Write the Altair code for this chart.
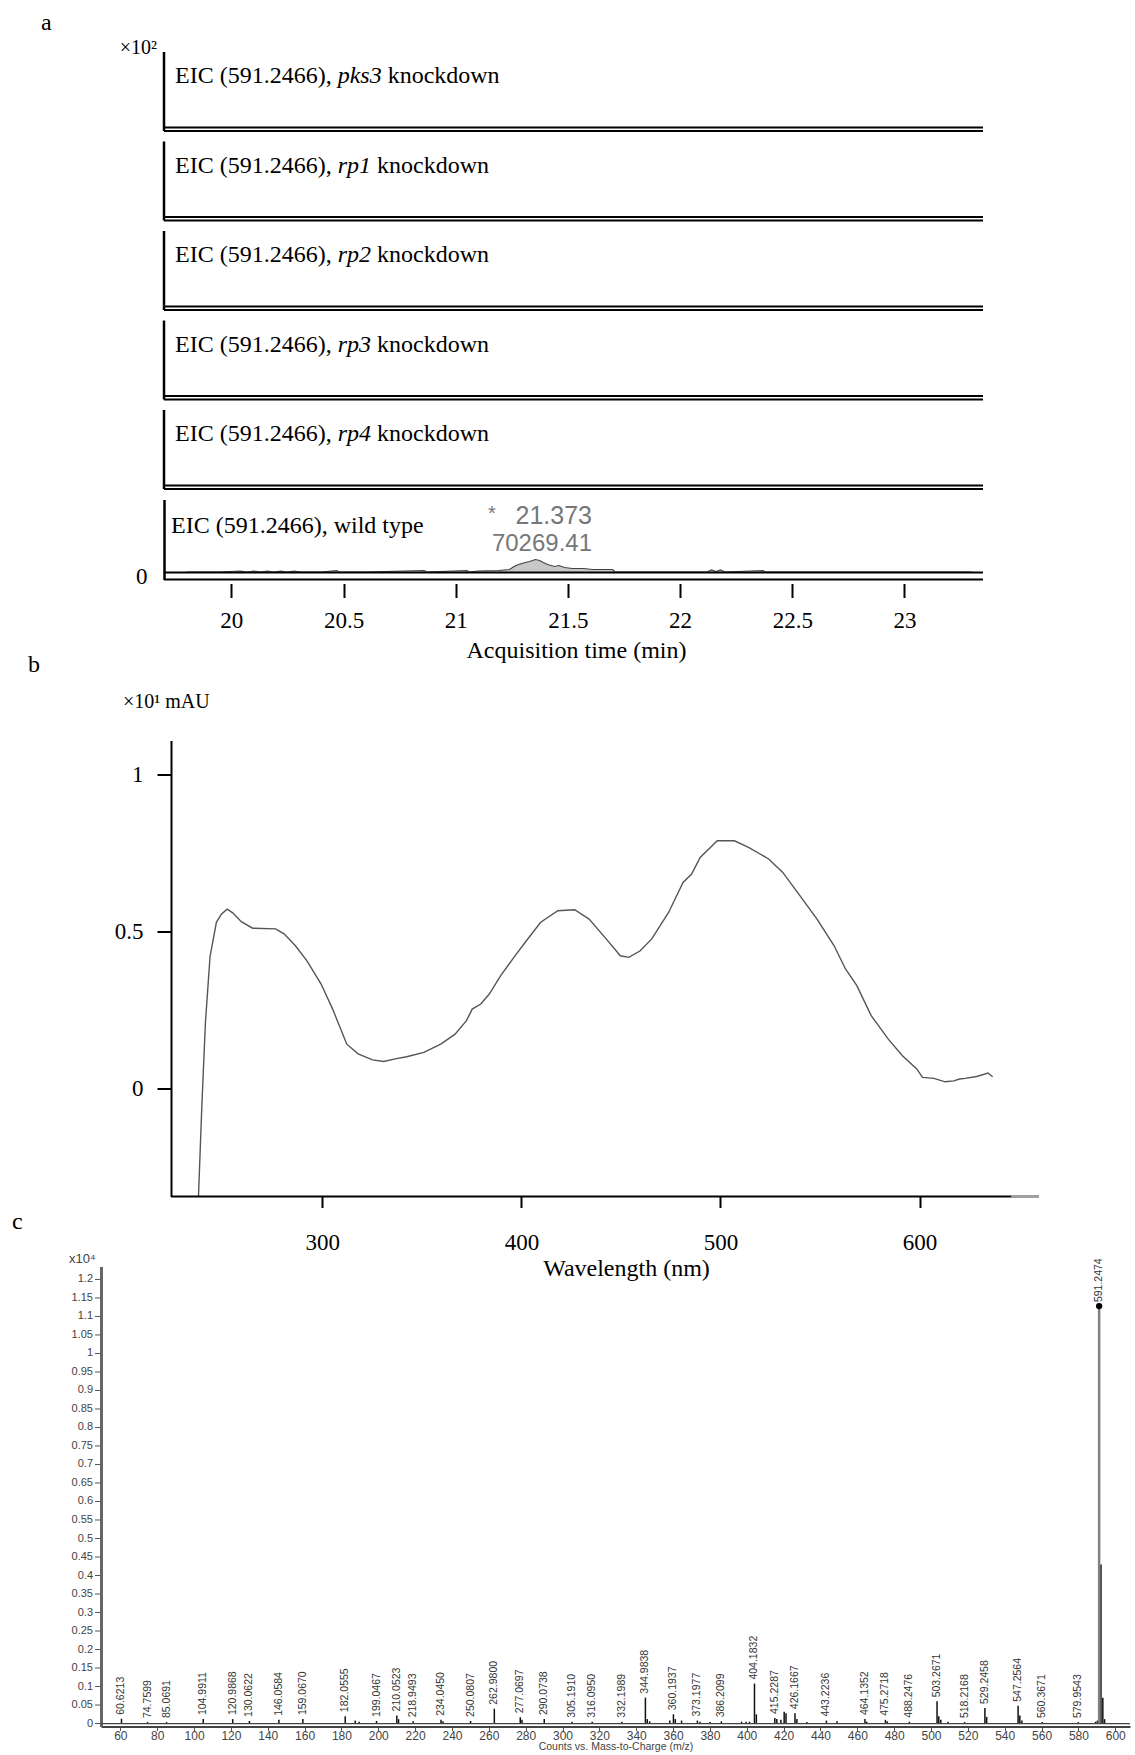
import altair as alt
import pandas as pd

# ---------------- panel a : EIC traces ----------------
knock_genes = ["pks3", "rp1", "rp2", "rp3", "rp4"]
wt_time = [19.80, 19.95, 20.04, 20.07, 20.10, 20.13, 20.16, 20.19, 20.22, 20.25,
           20.28, 20.31, 20.40, 20.47, 20.48, 20.60, 20.86, 20.87, 21.05, 21.06,
           21.10, 21.19, 21.24, 21.26, 21.28, 21.31, 21.33, 21.355, 21.374, 21.39,
           21.41, 21.44, 21.46, 21.485, 21.52, 21.57, 21.61, 21.70, 21.71, 21.90,
           22.12, 22.14, 22.16, 22.18, 22.20, 22.37, 22.38, 22.60, 23.00, 23.30]
wt_int = [0.5, 0.5, 1.5, 0.5, 1.5, 0.5, 1.5, 0.5, 1.5, 0.5,
          1.5, 0.5, 0.5, 2, 0.5, 0.5, 2, 0.5, 2, 0.5,
          1.5, 2, 3, 6, 8, 10, 11, 13, 12, 10,
          8, 6, 7, 5, 4, 4, 3, 3, 0.5, 0.5,
          0.5, 2.5, 1, 2.5, 0.5, 2, 0.5, 0.5, 0.5, 0.5]
a_ticks = [20, 20.5, 21, 21.5, 22, 22.5, 23]
wt_peak_rt = "21.373"
wt_peak_area = "70269.41"

# ---------------- panel b : UV spectrum ----------------
uv_wl = [237.0, 237.8, 239.5, 241.3, 243.6, 246.8, 249.3, 252.2, 255.0, 259.3,
         265.0, 276.5, 280.8, 286.5, 292.3, 299.4, 305.2, 312.3, 318.0, 325.2,
         330.9, 336.6, 342.4, 351.0, 359.5, 366.7, 372.4, 375.3, 379.6, 383.9,
         389.6, 396.8, 402.5, 409.7, 418.3, 426.8, 434.0, 442.6, 449.7, 454.0,
         459.7, 465.5, 474.0, 481.2, 485.5, 489.8, 498.4, 507.0, 514.1, 524.2,
         531.3, 539.9, 548.5, 557.1, 562.8, 568.5, 575.7, 584.3, 591.4, 598.6,
         601.5, 607.2, 612.9, 617.2, 620.1, 622.9, 628.7, 634.4, 636.7]
uv_abs = [-0.40, -0.345, -0.055, 0.21, 0.42, 0.53, 0.556, 0.572, 0.56, 0.532,
          0.511, 0.509, 0.493, 0.455, 0.407, 0.333, 0.253, 0.141, 0.11, 0.091,
          0.086, 0.094, 0.101, 0.115, 0.141, 0.173, 0.216, 0.253, 0.269, 0.301,
          0.36, 0.423, 0.471, 0.53, 0.567, 0.57, 0.54, 0.477, 0.423, 0.418,
          0.439, 0.477, 0.562, 0.657, 0.684, 0.737, 0.79, 0.79, 0.769, 0.732,
          0.689, 0.615, 0.54, 0.455, 0.381, 0.328, 0.232, 0.157, 0.104, 0.062,
          0.035, 0.032, 0.021, 0.024, 0.03, 0.032, 0.038, 0.049, 0.037]
b_xticks = [300, 400, 500, 600]
b_yticks = [0, 0.5, 1]

# ---------------- panel c : mass spectrum ----------------
ms_mz = [60.6213, 74.7599, 85.0691, 104.9911, 120.9868, 130.0622, 146.0584, 159.0670,
         182.0555, 199.0467, 210.0523, 218.9493, 234.0450, 250.0807, 262.9800, 277.0697,
         290.0738, 305.1910, 316.0950, 332.1989, 344.9838, 360.1937, 373.1977, 386.2099,
         404.1832, 415.2287, 426.1667, 443.2236, 464.1352, 475.2718, 488.2476, 503.2671,
         518.2168, 529.2458, 547.2564, 560.3671, 579.9543]
ms_int = [0.013, 0.004, 0.004, 0.012, 0.012, 0.007, 0.010, 0.012,
          0.020, 0.007, 0.022, 0.006, 0.010, 0.007, 0.040, 0.017,
          0.012, 0.005, 0.005, 0.005, 0.070, 0.025, 0.008, 0.006,
          0.108, 0.015, 0.028, 0.008, 0.012, 0.010, 0.005, 0.060,
          0.004, 0.042, 0.048, 0.004, 0.004]
ms_base_mz = [591.2474]
ms_base_int = [1.128]
ms_minor_mz = [187.5, 189.6, 211.0, 235.1, 278.0, 346.0, 347.3, 358.2, 361.2, 364.6,
               374.6, 380.1, 397.2, 399.6, 401.5, 405.2, 416.3, 418.5, 420.3, 421.3,
               427.2, 432.6, 449.0, 465.1, 476.3, 504.2, 505.3, 509.2, 530.2, 548.2,
               549.3, 589.3, 590.3, 592.25, 593.25, 594.2]
ms_minor_int = [0.008, 0.005, 0.012, 0.006, 0.010, 0.012, 0.006, 0.008, 0.012, 0.008,
                0.005, 0.004, 0.005, 0.005, 0.005, 0.025, 0.012, 0.010, 0.032, 0.028,
                0.012, 0.004, 0.006, 0.005, 0.006, 0.020, 0.010, 0.005, 0.018, 0.022,
                0.008, 0.005, 0.008, 0.430, 0.070, 0.012]
c_xticks = [60, 80, 100, 120, 140, 160, 180, 200, 220, 240, 260, 280, 300, 320,
            340, 360, 380, 400, 420, 440, 460, 480, 500, 520, 540, 560, 580, 600]
c_yticks = [0, 0.05, 0.1, 0.15, 0.2, 0.25, 0.3, 0.35, 0.4, 0.45, 0.5, 0.55, 0.6,
            0.65, 0.7, 0.75, 0.8, 0.85, 0.9, 0.95, 1.0, 1.05, 1.1, 1.15, 1.2]

# ---------------- styling ----------------
SERIF = "Liberation Serif"
SANS = "Liberation Sans"
FS = 23
FS_LAB = 24
one = pd.DataFrame({"k": [0]})
SPACING = 10.5


def txt(s, x, y, size=FS_LAB, font=SERIF, italic=False, align="left",
        baseline="alphabetic", color="black"):
    mk = dict(align=align, baseline=baseline, font=font, fontSize=size, color=color)
    if italic:
        mk["fontStyle"] = "italic"
    return alt.Chart(pd.DataFrame({"s": [s]})).mark_text(**mk).encode(
        text="s:N", x=alt.value(x), y=alt.value(y))


def spacer(h):
    return alt.Chart(pd.DataFrame({"s": [""]})).mark_text().encode(
        text="s:N").properties(width=1, height=h)


# ---- panel a ---- (all panels share the left edge of panel c's plot)
A_LEFT = 63
A_FRAME = 819
A_W = A_LEFT + A_FRAME
A_DOM_R = 23.35
A_DOM_L_VIS = 19.70
A_DOM_L = A_DOM_L_VIS - A_LEFT * (A_DOM_R - A_DOM_L_VIS) / A_FRAME
KH = 79
WH = 80
PREFIX = "EIC (591.2466),"
gene_em = {"pks3": 1.833, "rp1": 1.389, "rp2": 1.389, "rp3": 1.389, "rp4": 1.389}
x_txt = A_LEFT + 11
x_gene = x_txt + 6.777 * FS_LAB

rows = []
for i, g in enumerate(knock_genes):
    layers = [
        alt.Chart(one).mark_rule(color="black", strokeWidth=2.5).encode(
            x=alt.value(A_LEFT), y=alt.value(0), y2=alt.value(KH)),
        alt.Chart(one).mark_rule(color="black", strokeWidth=2).encode(
            x=alt.value(A_LEFT), x2=alt.value(A_W), y=alt.value(KH - 3.5)),
        alt.Chart(one).mark_rule(color="black", strokeWidth=2).encode(
            x=alt.value(A_LEFT), x2=alt.value(A_W), y=alt.value(KH)),
        txt(PREFIX, x_txt, 31),
        txt(g, x_gene, 31, italic=True),
        txt("knockdown", x_gene + (gene_em[g] + 0.25) * FS_LAB, 31),
    ]
    if i == 0:
        layers += [txt("a", A_LEFT - 123, -22, size=24),
                   txt("×10²", A_LEFT - 7, 2, size=20, align="right")]
    rows.append(alt.layer(*layers).properties(width=A_W, height=KH))

wt_df = pd.DataFrame({"t": wt_time, "v": wt_int})
xa = alt.X("t:Q", scale=alt.Scale(domain=[A_DOM_L, A_DOM_R], nice=False, zero=False),
           axis=alt.Axis(values=a_ticks, format=".1~f", domain=False, tickSize=14,
                         tickWidth=2, tickColor="black", offset=4, labelFont=SERIF,
                         labelFontSize=FS, labelColor="black", labelPadding=12,
                         labelFlush=False, labelOverlap=False,
                         title="Acquisition time (min)", titleFont=SERIF,
                         titleFontSize=FS_LAB, titleFontWeight="normal",
                         titleColor="black", titlePadding=6, titleX=475, grid=False))
ya = alt.Y("v:Q", scale=alt.Scale(domain=[-7, 73], nice=False, zero=False),
           axis=alt.Axis(values=[0], domain=True, domainColor="black", domainWidth=2.5,
                         ticks=False, labelPadding=17, labelFont=SERIF, labelFontSize=FS,
                         labelColor="black", labelOffset=4, offset=-A_LEFT,
                         title=None, grid=False))
wt_area = alt.Chart(wt_df).mark_area(color="#c8c8c8").encode(x=xa, y=ya, y2=alt.datum(0))
wt_line = alt.Chart(wt_df).mark_line(color="#444444", strokeWidth=1.2).encode(x=xa, y=ya)
wt_base = alt.Chart(one).mark_rule(color="black", strokeWidth=2).encode(
    x=alt.value(A_LEFT), x2=alt.value(A_W), y=alt.datum(0))
wt_low = alt.Chart(one).mark_rule(color="black", strokeWidth=2).encode(
    x=alt.value(A_LEFT), x2=alt.value(A_W), y=alt.value(WH))
wt_row = alt.layer(
    wt_area, wt_line, wt_base, wt_low,
    txt("EIC (591.2466), wild type", A_LEFT + 7, 33.5),
    txt("*", A_LEFT + 324, 20, size=20, font=SANS, color="#777777"),
    txt(wt_peak_rt, A_LEFT + 428, 24, size=25, font=SANS, align="right", color="#777777"),
    txt(wt_peak_area, A_LEFT + 428, 51, size=24, font=SANS, align="right", color="#777777"),
).properties(width=A_W, height=WH)

# ---- panel b ----
B_LEFT = 70
B_FRAME = 868
B_W = B_LEFT + B_FRAME
B_H = 456
B_DOM_R = 660
B_DOM_L_VIS = 224
B_DOM_L = B_DOM_L_VIS - B_LEFT * (B_DOM_R - B_DOM_L_VIS) / B_FRAME
uv_df = pd.DataFrame({"wl": uv_wl, "a": uv_abs})
bx = alt.X("wl:Q", scale=alt.Scale(domain=[B_DOM_L, B_DOM_R], nice=False, zero=False),
           axis=alt.Axis(values=b_xticks, format="d", domain=False,
                         tickSize=11, tickWidth=2, tickColor="black", labelFont=SERIF,
                         labelFontSize=FS, labelColor="black", labelPadding=24,
                         labelFlush=False, labelOverlap=False,
                         title="Wavelength (nm)", titleFont=SERIF, titleFontSize=FS_LAB,
                         titleFontWeight="normal", titleColor="black", titlePadding=2,
                         titleX=525, grid=False))
by = alt.Y("a:Q", scale=alt.Scale(domain=[-0.345, 1.11], nice=False, zero=False),
           axis=alt.Axis(values=b_yticks, format="~g", domainColor="black", domainWidth=2,
                         tickSize=14, tickWidth=2, tickColor="black", labelFont=SERIF,
                         labelFontSize=FS, labelColor="black", labelPadding=14,
                         labelOverlap=False, offset=-B_LEFT, title=None, grid=False))
b_line = alt.Chart(uv_df).mark_line(color="#555555", strokeWidth=1.4, clip=True).encode(x=bx, y=by)
b_axis = alt.Chart(one).mark_rule(color="black", strokeWidth=2).encode(
    x=alt.datum(B_DOM_L_VIS), x2=alt.datum(B_DOM_R), y=alt.value(B_H))
b_tail = alt.Chart(one).mark_rule(color="#a0a0a0", strokeWidth=3).encode(
    x=alt.datum(646), x2=alt.datum(B_DOM_R), y=alt.value(B_H))
panelB = alt.layer(
    b_line, b_axis, b_tail,
    txt("b", B_LEFT - 143, -69, size=24),
    txt("×10¹ mAU", B_LEFT - 48, -33, size=20),
).properties(width=B_W, height=B_H)

# ---- panel c ----
C_W = 1029
C_H = 460
cxs = alt.Scale(domain=[49.5, 608], nice=False, zero=False)
cys = alt.Scale(domain=[-0.008, 1.235], nice=False, zero=False)
cx = alt.X("mz:Q", scale=cxs,
           axis=alt.Axis(values=c_xticks, format="d", domainColor="#444444", domainWidth=2,
                         tickSize=4, tickColor="#555555", labelFont=SANS, labelFontSize=12,
                         labelColor="#444444", labelPadding=0, labelFlush=False,
                         labelOverlap=False, title="Counts vs. Mass-to-Charge (m/z)",
                         titleFont=SANS, titleFontSize=10.5, titleFontWeight="normal",
                         titleColor="#444444", titleBaseline="alphabetic", titleY=23,
                         grid=False))
cy = alt.Y("i:Q", scale=cys,
           axis=alt.Axis(values=c_yticks, domainColor="#666666", domainWidth=3,
                         ticks=False, labels=False, title=None, grid=False))

minor_df = pd.DataFrame({"mz": ms_minor_mz, "i": ms_minor_int})
lab_df = pd.DataFrame({"mz": ms_mz, "i": ms_int})
base_df = pd.DataFrame({"mz": ms_base_mz, "i": ms_base_int})
txt_df = pd.concat([lab_df, base_df], ignore_index=True)
txt_df["txt"] = [f"{m:.4f}" for m in txt_df["mz"]]
yt_df = pd.DataFrame({"i": c_yticks})
yt_df["lab"] = [f"{v:g}" for v in c_yticks]

c_minor = alt.Chart(minor_df).mark_rule(color="#111111", strokeWidth=1.5).encode(
    x=cx, y=cy, y2=alt.datum(0))
c_lab = alt.Chart(lab_df).mark_rule(color="#111111", strokeWidth=1.5).encode(
    x=cx, y=cy, y2=alt.datum(0))
c_base = alt.Chart(base_df).mark_rule(color="#808080", strokeWidth=2.5).encode(
    x=cx, y=cy, y2=alt.datum(0))
c_dot = alt.Chart(base_df).mark_point(filled=True, color="black", size=40, opacity=1).encode(
    x=cx, y=cy)
c_text = alt.Chart(txt_df).mark_text(angle=270, align="left", baseline="middle", dx=4,
                                     font=SANS, fontSize=10.5, color="#333333").encode(
    x=cx, y=cy, text="txt:N")
c_yt = alt.Chart(yt_df).mark_rule(color="#555555", strokeWidth=1).encode(
    y=cy, x=alt.value(-6), x2=alt.value(-1))
c_yl = alt.Chart(yt_df).mark_text(align="right", baseline="middle", font=SANS, fontSize=11,
                                  color="#444444").encode(
    y=cy, x=alt.value(-8), text="lab:N")
c_zero = alt.Chart(one).mark_rule(color="#444444", strokeWidth=1.2).encode(
    x=alt.value(0), x2=alt.value(C_W), y=alt.datum(0))
panelC = alt.layer(
    c_minor, c_lab, c_base, c_dot, c_text, c_yt, c_yl, c_zero,
    txt("c", -89, -38, size=24),
    txt("x10⁴", -32, -4, size=13, font=SANS, color="#444444"),
).properties(width=C_W, height=C_H)

GAP_AB = 160.5
GAP_BC = 70
chart = alt.vconcat(
    *rows, wt_row,
    spacer(GAP_AB - 2 * SPACING),
    panelB,
    spacer(GAP_BC - 2 * SPACING),
    panelC,
    spacing=SPACING, bounds="flush",
).properties(
    padding={"left": 12, "top": 11, "right": 0, "bottom": 0}
).configure(background="white").configure_view(stroke=None)

chart.save("out.html", embed_options={"renderer": "svg", "actions": False})
